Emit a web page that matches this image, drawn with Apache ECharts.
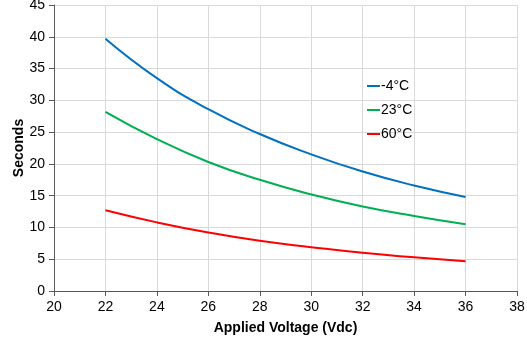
<!DOCTYPE html>
<html><head><meta charset="utf-8">
<script src="https://cdn.jsdelivr.net/npm/echarts@6/dist/echarts.min.js"></script>
<style>html,body{margin:0;padding:0;background:#fff}#c{width:527px;height:360px}</style>
</head><body><div id="c"></div>
<script>
const voltages = [22, 24, 26, 28, 30, 32, 34, 36];
const seriesNames = ['-4°C', '23°C', '60°C'];
const minus4 = [39.7, 33.5, 28.6, 24.7, 21.5, 18.8, 16.6, 14.8];
const t23 = [28.2, 23.9, 20.3, 17.5, 15.2, 13.3, 11.8, 10.5];
const t60 = [12.7, 10.8, 9.2, 7.9, 6.9, 6.0, 5.3, 4.7];
const colors = ['#0070C0', '#00B050', '#FF0000'];
const values = [minus4, t23, t60];

const font = 'Liberation Sans';
const chart = echarts.init(document.getElementById('c'), null, {renderer: 'canvas'});
chart.setOption({
  animation: false,
  textStyle: {fontFamily: font},
  grid: {left: 54, right: 10, top: 5, bottom: 69, outerBoundsMode: 'none', containLabel: false},
  legend: {
    orient: 'vertical', left: 362, top: 74, itemGap: 10, itemWidth: 13, itemHeight: 2,
    icon: 'rect',
    textStyle: {fontFamily: font, fontSize: 14, color: '#000', padding: [0,0,0,-4]},
    data: seriesNames
  },
  xAxis: {
    type: 'value', min: 20, max: 38, interval: 2,
    name: 'Applied Voltage (Vdc)', nameLocation: 'middle', nameGap: 30, nameMoveOverlap: false,
    nameTextStyle: {fontWeight: 'bold', fontSize: 14, color: '#000'},
    axisLine: {lineStyle: {color: '#595959', width: 1}},
    axisTick: {show: true, length: 5, lineStyle: {color: '#595959'}},
    axisLabel: {color: '#000', fontSize: 14, margin: 9},
    splitLine: {show: true, lineStyle: {color: '#D9D9D9'}}
  },
  yAxis: {
    type: 'value', min: 0, max: 45, interval: 5,
    name: 'Seconds', nameLocation: 'middle', nameGap: 28, nameRotate: 90, nameMoveOverlap: false,
    nameTextStyle: {fontWeight: 'bold', fontSize: 14, color: '#000'},
    axisLine: {show: true, lineStyle: {color: '#595959', width: 1}},
    axisTick: {show: true, length: 5, lineStyle: {color: '#595959'}},
    axisLabel: {color: '#000', fontSize: 14, margin: 9},
    splitLine: {show: true, lineStyle: {color: '#D9D9D9'}}
  },
  series: seriesNames.map((n, i) => ({
    name: n, type: 'line', smooth: true, showSymbol: false,
    data: voltages.map((v, j) => [v, values[i][j]]),
    lineStyle: {color: colors[i], width: 2},
    itemStyle: {color: colors[i]}
  }))
});
</script></body></html>
